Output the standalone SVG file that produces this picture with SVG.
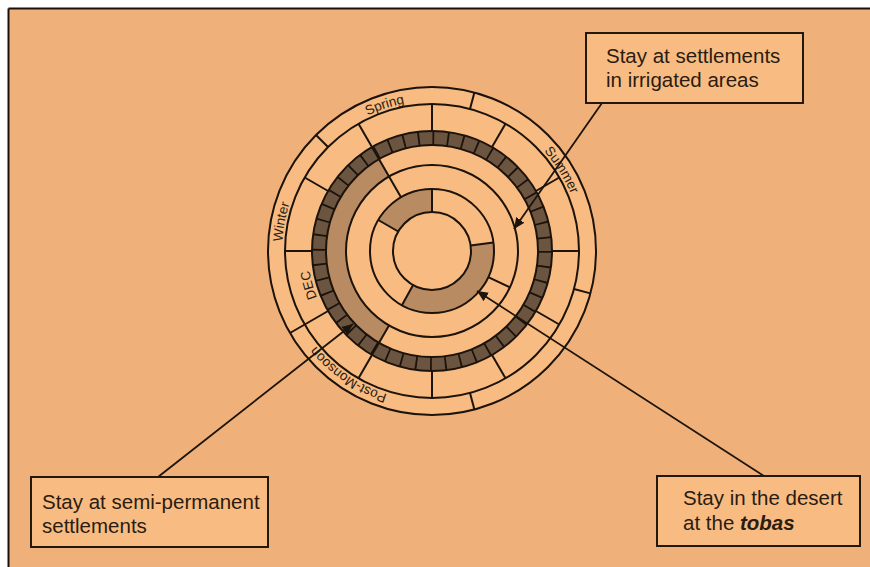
<svg xmlns="http://www.w3.org/2000/svg" width="870" height="567" viewBox="0 0 870 567">
<defs>
<style>
.ln{stroke:#1c130b;stroke-width:2;fill:none;stroke-linecap:butt}
.ring{stroke:#1c130b;stroke-width:2;fill:none}
.tan{fill:#b98b62}
.box{fill:#f8bb82;stroke:#24170c;stroke-width:2}
.bt{font-family:"Liberation Sans",Arial,sans-serif;font-size:20.5px;fill:#2a1c10}
.wl{font-family:"Liberation Sans",Arial,sans-serif;font-size:13.5px;fill:#2a1c10}
.ptr{stroke:#1c130b;stroke-width:1.8;fill:none;marker-end:url(#ah)}
</style>
<marker id="ah" markerUnits="userSpaceOnUse" markerWidth="12" markerHeight="10" refX="11" refY="5" orient="auto">
<path d="M0,0 L11,5 L0,10 Z" fill="#1c130b"/>
</marker>
<path id="pSpring" d="M292.9,194.8 A150,150 0 0 1 511.5,123.8"/>
<path id="pSummer" d="M452.9,102.5 A150,150 0 0 1 574.7,297.4"/>
<path id="pWinter" d="M315.4,345.4 A150,150 0 0 1 359.3,119.8"/>
<path id="pPost" d="M473.3,395.2 A150,150 0 0 1 282.8,266.7"/>
<path id="pDec" d="M380.6,363.8 A124,124 0 0 1 329.8,180.8"/>
</defs>

<rect x="0" y="0" width="870" height="567" fill="#ffffff"/>
<rect x="8.5" y="8.5" width="870" height="570" fill="#f0b07a"/>
<line x1="8.5" y1="8.5" x2="870" y2="8.5" stroke="#1a1008" stroke-width="2"/>
<line x1="8.5" y1="8.5" x2="8.5" y2="567" stroke="#1a1008" stroke-width="2"/>

<g id="wheel">
<circle cx="432" cy="251" r="164" fill="#f8bb82"/>
<!-- dark week squares -->
<circle cx="432" cy="251" r="113" fill="none" stroke="#6c5540" stroke-width="14"/>
<circle cx="432" cy="251" r="113" fill="none" stroke="#1c130b" stroke-width="14" stroke-dasharray="1.8 12.99"/>
<!-- tan shading -->
<path class="tan" d="M378.3,220 A62,62 0 0 1 432,189 L432,212 A39,39 0 0 0 398.2,231.5 Z"/>
<path class="tan" d="M493.4,242.4 A62,62 0 0 1 401.9,305.2 L413.1,285.1 A39,39 0 0 0 470.6,245.6 Z"/>
<path class="tan" d="M379,342.8 A106,106 0 0 1 379,159.2 L389,176.5 A86,86 0 0 0 389,325.5 Z"/>
<!-- rings -->
<circle class="ring" cx="432" cy="251" r="164"/>
<circle class="ring" cx="432" cy="251" r="147"/>
<circle class="ring" cx="432" cy="251" r="120"/>
<circle class="ring" cx="432" cy="251" r="106"/>
<circle class="ring" cx="432" cy="251" r="86"/>
<circle class="ring" cx="432" cy="251" r="62"/>
<circle class="ring" cx="432" cy="251" r="39"/>
<!-- month separators -->
<g class="ln">
<line x1="432" y1="131" x2="432" y2="104"/>
<line x1="492" y1="147.1" x2="505.5" y2="123.7"/>
<line x1="535.9" y1="191" x2="559.3" y2="177.5"/>
<line x1="552" y1="251" x2="579" y2="251"/>
<line x1="535.9" y1="311" x2="559.3" y2="324.5"/>
<line x1="492" y1="354.9" x2="505.5" y2="378.3"/>
<line x1="432" y1="371" x2="432" y2="398"/>
<line x1="389" y1="325.5" x2="358.5" y2="378.3"/>
<line x1="328.1" y1="311" x2="290" y2="333"/>
<line x1="312" y1="251" x2="285" y2="251"/>
<line x1="328.1" y1="191" x2="304.7" y2="177.5"/>
<line x1="401" y1="197.3" x2="358.5" y2="123.7"/>
<!-- season separators -->
<line x1="470" y1="109" x2="474.4" y2="92.6"/>
<line x1="574" y1="289" x2="590.4" y2="293.4"/>
<line x1="470" y1="393" x2="474.4" y2="409.4"/>
<line x1="328" y1="147" x2="316" y2="135"/>
<!-- inner band separators -->
<line x1="488.2" y1="277.2" x2="509.9" y2="287.3"/>
<line x1="432" y1="212" x2="432" y2="189"/>
<line x1="398.2" y1="231.5" x2="378.3" y2="220"/>
<line x1="470.6" y1="245.6" x2="493.4" y2="242.4"/>
<line x1="413.1" y1="285.1" x2="401.9" y2="305.2"/>
</g>
<!-- labels -->
<text class="wl"><textPath href="#pSpring" startOffset="50%" text-anchor="middle">Spring</textPath></text>
<text class="wl"><textPath href="#pSummer" startOffset="50%" text-anchor="middle">Summer</textPath></text>
<text class="wl"><textPath href="#pWinter" startOffset="50%" text-anchor="middle">Winter</textPath></text>
<text class="wl"><textPath href="#pPost" startOffset="50%" text-anchor="middle">Post-Monsoon</textPath></text>
<text class="wl"><textPath href="#pDec" startOffset="50%" text-anchor="middle">DEC</textPath></text>
</g>

<g id="connectors">
<line class="ptr" x1="602" y1="103" x2="514" y2="229"/>
<line class="ptr" x1="158" y1="477" x2="353" y2="324"/>
<line class="ptr" x1="764" y1="476" x2="477" y2="291"/>
</g>

<g id="box-irrigated">
<rect class="box" x="586" y="33" width="217" height="70"/>
<text class="bt" x="606" y="63">Stay at settlements</text>
<text class="bt" x="606" y="87">in irrigated areas</text>
</g>

<g id="box-semipermanent">
<rect class="box" x="31" y="477" width="237" height="70"/>
<text class="bt" x="42" y="509">Stay at semi-permanent</text>
<text class="bt" x="42" y="533">settlements</text>
</g>

<g id="box-desert">
<rect class="box" x="657" y="476" width="203" height="70"/>
<text class="bt" x="683" y="505">Stay in the desert</text>
<text class="bt" x="683" y="530">at the <tspan font-weight="bold" font-style="italic">tobas</tspan></text>
</g>
</svg>
